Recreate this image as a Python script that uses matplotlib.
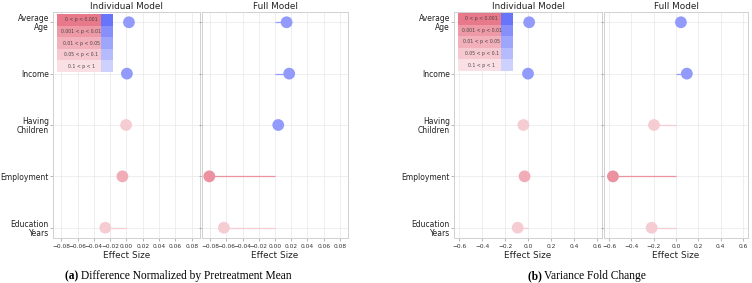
import matplotlib
matplotlib.use("Agg")
import matplotlib.pyplot as plt
from matplotlib.patches import Rectangle
import numpy as np

categories = ["Average\nAge", "Income", "Having\nChildren", "Employment", "Education\nYears"]

# Panel (a): Difference normalized by pretreatment mean
a_individual = [0.003, 0.0005, -0.0005, -0.005, -0.026]
a_individual_p = [1, 1, 3, 2, 3]
a_full = [0.0143, 0.0175, 0.004, -0.081, -0.063]
a_full_p = [1, 1, 1, 1, 3]

# Panel (b): Variance fold change
b_individual = [0.01, 0.0, -0.04, -0.03, -0.09]
b_individual_p = [1, 1, 3, 2, 3]
b_full = [0.044, 0.097, -0.197, -0.565, -0.218]
b_full_p = [1, 1, 3, 1, 3]

p_labels = ["0 < p < 0.001", "0.001 < p < 0.01", "0.01 < p < 0.05", "0.05 < p < 0.1", "0.1 < p < 1"]

a_ticks = [-0.08, -0.06, -0.04, -0.02, 0.00, 0.02, 0.04, 0.06, 0.08]
a_ticklabels = ["\u22120.08", "\u22120.06", "\u22120.04", "\u22120.02", "0.00", "0.02", "0.04", "0.06", "0.08"]
b_ticks = [-0.6, -0.4, -0.2, 0.0, 0.2, 0.4, 0.6]
b_ticklabels = ["\u22120.6", "\u22120.4", "\u22120.2", "0.0", "0.2", "0.4", "0.6"]

RED = np.array([0.87, 0.23, 0.33])
BLUE = np.array([0.24, 0.30, 0.97])
ALPHAS = [0.68, 0.52, 0.40, 0.28, 0.16]
DOT_ALPHAS = [0.75, 0.56, 0.42, 0.26, 0.18]

W, H = 752, 283
serif = ["Liberation Serif", "DejaVu Serif"]


def blend(base, a):
    return tuple(1 - a * (1 - base))


fig = plt.figure(figsize=(7.52, 2.83), dpi=100)


def ax_at(x0, x1, y0=12, y1=238):
    return fig.add_axes([x0 / W, 1 - y1 / H, (x1 - x0) / W, (y1 - y0) / H])


def style(ax, xlim, ticks, ticklabels, title, show_ylabels):
    ax.set_xlim(-xlim, xlim)
    ax.set_ylim(4.2, -0.2)
    ax.set_xticks(ticks)
    ax.set_xticklabels(ticklabels, fontsize=4.2, color="#333333")
    ax.set_yticks(range(len(categories)))
    if show_ylabels:
        ax.set_yticklabels(categories, fontsize=5.5, color="#222222", linespacing=1.0)
    else:
        ax.set_yticklabels([])
    ax.tick_params(axis="both", length=2, width=0.5, color="#999999", pad=2)
    ax.tick_params(axis="y", pad=1.0)
    ax.grid(True, color="#e8e8e8", linewidth=0.5)
    ax.set_axisbelow(True)
    for s in ax.spines.values():
        s.set_color("#d0d0d0")
        s.set_linewidth(0.7)
    ax.set_title(title, fontsize=6.4, color="#222222", pad=2)
    ax.set_xlabel("Effect Size", fontsize=6.4, color="#222222", labelpad=2)


def plot_points(ax, vals, plev):
    ys = np.arange(len(vals))
    for y, v, p in zip(ys, vals, plev):
        base = BLUE if v >= 0 else RED
        c = blend(base, DOT_ALPHAS[p])
        ax.plot([0, v], [y, y], color=c, linewidth=0.9, zorder=2, solid_capstyle="butt")
        ax.scatter([v], [y], s=72, color=[c], edgecolors="none", zorder=3)


def legend_box(x0, xr, x1, y0, y1):
    lax = fig.add_axes([x0 / W, 1 - y1 / H, (x1 - x0) / W, (y1 - y0) / H])
    lax.set_xlim(0, 1)
    lax.set_ylim(len(p_labels), 0)
    lax.axis("off")
    frac = (xr - x0) / (x1 - x0)
    for i, lab in enumerate(p_labels):
        lax.add_patch(Rectangle((0, i), frac, 1, facecolor=blend(RED, ALPHAS[i]), edgecolor="none"))
        lax.add_patch(Rectangle((frac, i), 1 - frac, 1, facecolor=blend(BLUE, ALPHAS[i] + 0.1), edgecolor="none"))
        lax.text(frac / 2 + 0.04, i + 0.5, lab, fontsize=3.3, ha="center", va="center", color="#444444")


def caption(xc, bold, rest):
    y = 1 - 276 / H
    tb = fig.text(0, y, bold + " ", fontsize=8.3, family=serif, weight="bold", va="center")
    tr = fig.text(0, y, rest, fontsize=8.3, family=serif, va="center")
    fig.canvas.draw()
    r = fig.canvas.get_renderer()
    wb = tb.get_window_extent(r).width
    wr = tr.get_window_extent(r).width
    start = xc - (wb + wr) / 2
    tb.set_x(start / W)
    tr.set_x((start + wb) / W)


# Panel (a)
a1 = ax_at(53, 200)
style(a1, 0.09, a_ticks, a_ticklabels, "Individual Model", True)
plot_points(a1, a_individual, a_individual_p)
a2 = ax_at(202, 348)
style(a2, 0.09, a_ticks, a_ticklabels, "Full Model", False)
plot_points(a2, a_full, a_full_p)
legend_box(57, 101, 113, 14, 72)

# Panel (b)
b1 = ax_at(454, 602)
style(b1, 0.645, b_ticks, b_ticklabels, "Individual Model", True)
plot_points(b1, b_individual, b_individual_p)
b2 = ax_at(604, 748)
style(b2, 0.645, b_ticks, b_ticklabels, "Full Model", False)
plot_points(b2, b_full, b_full_p)
legend_box(458, 501, 513, 13, 71)

caption(178, "(a)", "Difference Normalized by Pretreatment Mean")
caption(587, "(b)", "Variance Fold Change")

fig.savefig("out.png", dpi=100)
